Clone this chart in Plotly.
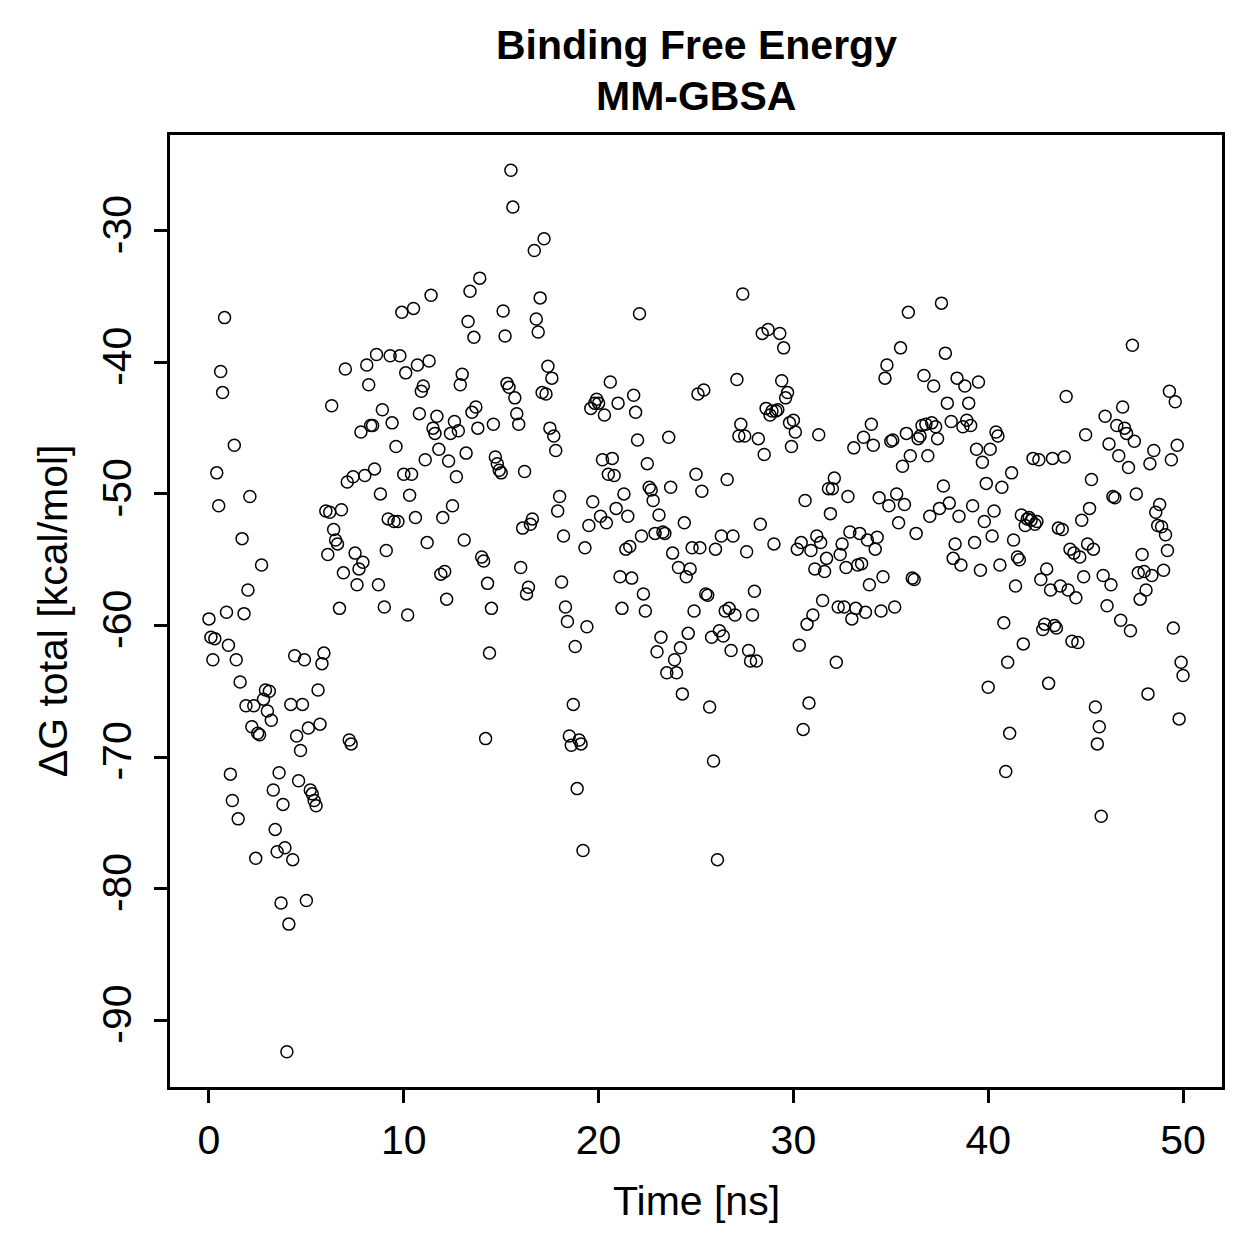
import numpy as np
import plotly.graph_objects as go

# Time in ns (MD frames every 0.1 ns)
time_ns = np.round(np.arange(0, 501) * 0.1, 1)

# ΔG total [kcal/mol] in time order
dg_0_10 = [
    -59.5, -60.9, -62.6, -61, -48.4, -50.9, -40.7, -42.3, -36.6, -59,
    -61.5, -71.3, -73.3, -46.3, -62.6, -74.7, -64.3, -53.4, -59.1, -66.1,
    -57.3, -50.2, -67.7, -66.1, -77.7, -68.2, -68.3, -55.4, -65.6, -64.9,
    -66.5, -65, -67.2, -72.5, -75.5, -77.2, -71.2, -81.1, -73.6, -76.9,
    -92.4, -82.7, -66, -77.8, -62.3, -68.4, -71.8, -69.5, -66, -62.6,
    -80.9, -67.8, -72.5, -72.8, -73.3, -73.7, -64.9, -67.5, -62.9, -62.1,
    -51.3, -54.6, -51.4, -43.3, -52.7, -53.5, -53.8, -58.7, -51.2, -56,
    -40.5, -49.1, -68.7, -69.0, -48.7, -54.5, -56.9, -55.7, -45.3, -55.2,
    -48.6, -40.2, -41.7, -44.8, -44.8, -48.1, -39.4, -56.9, -50, -43.6,
    -58.6, -54.3, -51.9, -39.5, -44.6, -52.1, -46.4, -52.1, -39.5,
]
dg_10_20 = [
    -36.2, -48.5, -40.8, -59.2, -50.1, -48.5, -35.9, -51.8, -40.2, -43.9,
    -42.2, -41.8, -47.4, -53.7, -39.9, -34.9, -45, -45.4, -44.1, -46.6,
    -56.1, -51.8, -55.9, -58, -47.5, -45.4, -50.9, -44.5, -48.7, -45.2,
    -41.7, -40.9, -53.5, -46.9, -36.9, -34.6, -43.8, -38.1, -43.4, -45,
    -33.6, -54.8, -55.1, -68.6, -56.8, -62.1, -58.7, -44.7, -47.2, -47.7,
    -48.2, -48.4, -36.1, -38, -41.6, -41.9, -25.4, -28.2, -42.7, -43.9,
    -44.7, -55.6, -52.6, -48.3, -57.6, -57.1, -52.3, -51.9, -31.5, -36.7,
    -37.7, -35.1, -42.3, -30.6, -42.4, -40.3, -45, -41.2, -45.6, -46.7,
    -51.3, -50.2, -56.7, -53.2, -58.6, -59.7, -68.4, -69.1, -66.0, -61.6,
    -72.4, -68.7, -69, -77.1, -54.1, -60.1, -52.4, -43.5, -50.6, -43.1,
]
dg_20_30 = [
    -42.8, -43.1, -51.7, -47.4, -44, -52.2, -48.5, -41.5, -47.3, -48.6,
    -51.1, -43.1, -56.3, -58.7, -50, -54.2, -51.7, -54, -56.4, -42.5,
    -43.8, -45.9, -36.3, -53.2, -57.6, -58.9, -47.7, -49.5, -49.7, -50.5,
    -53, -62, -51.6, -60.9, -52.9, -53, -63.6, -45.7, -49.5, -54.5,
    -62.6, -63.6, -55.6, -61.7, -65.2, -52.2, -56.3, -60.6, -55.7, -54.1,
    -58.9, -48.5, -42.4, -54.1, -49.8, -42.1, -57.6, -57.7, -66.2, -60.9,
    -70.3, -54.2, -77.8, -60.4, -53.2, -60.8, -58.9, -48.9, -58.7, -61.9,
    -53.2, -59.2, -41.3, -45.6, -44.7, -34.8, -45.6, -54.4, -61.9, -62.7,
    -59.2, -57.4, -62.7, -45.8, -52.3, -37.8, -47, -43.5, -37.5, -44,
    -43.7, -53.8, -43.7, -43.6, -37.8, -41.4, -38.9, -42.7, -42.3, -44.6,
]
dg_30_40 = [
    -46.4, -44.4, -45.3, -54.2, -61.5, -53.7, -67.9, -50.5, -59.9, -65.9,
    -54.3, -59.2, -55.7, -53.2, -45.5, -53.7, -58.1, -55.9, -54.9, -49.6,
    -51.5, -49.6, -48.8, -62.8, -58.6, -54.6, -53.8, -58.6, -55.6, -50.2,
    -52.9, -59.5, -46.5, -58.7, -55.4, -53, -55.3, -45.7, -59, -53.5,
    -56.9, -44.7, -46.3, -54.2, -53.3, -50.3, -58.9, -56.3, -41.2, -40.2,
    -50.9, -46, -45.9, -58.6, -50, -52.2, -38.9, -47.9, -50.8, -45.4,
    -36.2, -47.1, -56.4, -56.5, -53, -45.8, -45.6, -44.8, -41, -44.7,
    -47.1, -51.7, -44.6, -41.8, -44.9, -45.8, -51.1, -35.5, -49.4, -39.3,
    -43.1, -50.7, -44.5, -54.9, -53.8, -41.2, -51.7, -55.4, -44.9, -41.8,
    -44.4, -43.1, -44.8, -50.9, -53.7, -46.6, -41.5, -55.8, -47.6, -52.1,
]
dg_40_50 = [
    -49.2, -64.7, -46.6, -53.2, -51.3, -45.3, -45.6, -55.4, -49.5, -59.8,
    -71.1, -62.8, -68.2, -48.4, -53.5, -57, -54.8, -55, -51.6, -61.4,
    -52.4, -51.9, -51.8, -52, -47.3, -52.3, -52.1, -47.4, -56.5, -60.3,
    -59.9, -55.7, -64.4, -57.3, -47.3,
    -60, -60.2, -52.6, -57, -52.7, -47.2, -42.6, -57.3, -54.2, -61.2,
    -54.5, -57.9, -61.3, -54.8, -52, -56.3, -45.5, -53.8, -51.1, -48.9,
    -54.2, -66.2, -69, -67.7, -74.5, -56.2, -44.1, -58.5, -46.2, -56.9,
    -50.2, -50.3, -44.8, -47.1, -59.6, -43.4, -45, -45.4, -48, -60.4,
    -38.7, -46, -50, -56, -58, -54.6, -55.9, -57.3, -65.2, -47.7,
    -56.2, -46.7, -51.4, -52.4, -50.8, -52.5, -55.8, -53.1, -54.3, -42.2,
    -47.4, -60.2, -43, -46.3, -67.1, -62.8, -63.8,
]
dg_total = dg_0_10 + dg_10_20 + dg_20_30 + dg_30_40 + dg_40_50
n = min(len(dg_total), len(time_ns))
time_ns = time_ns[:n]
dg_total = dg_total[:n]

x_ticks = [0, 10, 20, 30, 40, 50]
y_ticks = [-90, -80, -70, -60, -50, -40, -30]
title_lines = ["Binding Free Energy", "MM-GBSA"]

FONT = "Liberation Sans, Arial, Helvetica, sans-serif"
FS = 41

fig = go.Figure()
fig.add_trace(go.Scatter(
    x=time_ns, y=dg_total, mode="markers",
    marker=dict(symbol="circle-open", size=12, color="black",
                line=dict(color="black", width=1.5)),
    showlegend=False, hoverinfo="skip",
))

xspan = max(time_ns) - min(time_ns)
yspan = max(dg_total) - min(dg_total)
xr = [min(time_ns) - 0.04 * xspan, max(time_ns) + 0.04 * xspan]
yr = [min(dg_total) - 0.04 * yspan, max(dg_total) + 0.04 * yspan]

axis_common = dict(
    showgrid=False, zeroline=False, showline=True, mirror=True,
    linecolor="black", linewidth=2.5,
    ticks="outside", ticklen=13, tickwidth=2.5, tickcolor="black",
    tickfont=dict(family=FONT, size=FS, color="black"),
)

fig.update_layout(
    width=1259, height=1259,
    margin=dict(l=170, r=37, t=135, b=172),
    paper_bgcolor="white", plot_bgcolor="white",
    xaxis=dict(range=xr, tickvals=x_ticks, ticktext=[str(v) for v in x_ticks],
               ticklabelstandoff=2, **axis_common),
    yaxis=dict(range=yr, tickvals=y_ticks, ticktext=[str(v) for v in y_ticks],
               tickangle=-90, ticklabelstandoff=7, **axis_common),
    annotations=[
        dict(text="<b>%s</b>" % title_lines[0], x=0.5, y=1.0945, xref="paper", yref="paper",
             xanchor="center", yanchor="middle", showarrow=False,
             font=dict(family=FONT, size=FS, color="black")),
        dict(text="<b>%s</b>" % title_lines[1], x=0.5, y=1.041, xref="paper", yref="paper",
             xanchor="center", yanchor="middle", showarrow=False,
             font=dict(family=FONT, size=FS, color="black")),
        dict(text="Time [ns]", x=0.5, y=-0.12, xref="paper", yref="paper",
             xanchor="center", yanchor="middle", showarrow=False,
             font=dict(family=FONT, size=FS, color="black")),
        dict(text="ΔG total [kcal/mol]", x=-0.111, y=0.5, xref="paper", yref="paper",
             xanchor="center", yanchor="middle", showarrow=False, textangle=-90,
             font=dict(family=FONT, size=FS, color="black")),
    ],
)

fig.write_html("out.html")
